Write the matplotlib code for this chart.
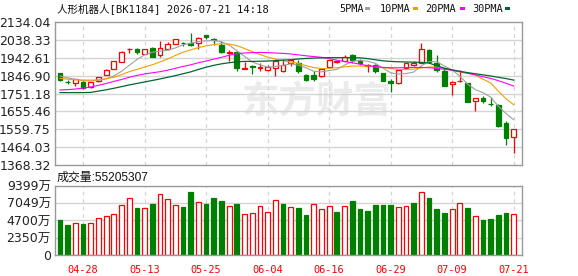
import numpy as np
import matplotlib.pyplot as plt
from matplotlib.patches import Rectangle

# candle data
opens = [1859, 1815, 1806, 1813, 1784, 1816, 1852, 1882, 1920, 1987,
         1989, 1963, 1995, 1956, 1991, 2018, 2022, 2020, 2023, 2064,
         2045, 2013, 1966, 1971, 1884, 1897, 1890, 1875, 1889, 1870,
         1913, 1916, 1848, 1848, 1843, 1893, 1918, 1927, 1955, 1923,
         1900, 1902, 1861, 1816, 1806, 1886, 1904, 1916, 1984, 1914,
         1873, 1802, 1818, 1807, 1709, 1727, 1695, 1690, 1591, 1517]
highs = [1862, 1823, 1827, 1816, 1815, 1839, 1880, 1925, 1977, 1995,
         1996, 1990, 1998, 2030, 2027, 2045, 2025, 2075, 2055, 2066,
         2050, 2030, 1984, 1980, 1922, 1904, 1916, 1904, 1936, 1938,
         1936, 1930, 1855, 1873, 1886, 1932, 1927, 1955, 1961, 1938,
         1907, 1909, 1863, 1830, 1880, 1922, 1925, 2023, 1991, 1957,
         1884, 1816, 1877, 1809, 1729, 1738, 1734, 1693, 1604, 1562]
lows = [1820, 1802, 1793, 1777, 1782, 1814, 1850, 1880, 1918, 1970,
        1963, 1961, 1945, 1948, 1984, 2014, 2004, 2007, 1991, 2041,
        2013, 1966, 1927, 1870, 1882, 1856, 1873, 1872, 1843, 1868,
        1900, 1863, 1816, 1818, 1841, 1891, 1916, 1924, 1913, 1902,
        1868, 1863, 1816, 1761, 1802, 1882, 1898, 1913, 1914, 1868,
        1791, 1743, 1813, 1705, 1659, 1698, 1684, 1574, 1477, 1434]
closes = [1823, 1813, 1827, 1782, 1813, 1838, 1879, 1923, 1975, 1990,
          1973, 1988, 1948, 1997, 2016, 2041, 2020, 2011, 2050, 2052,
          2036, 1975, 1973, 1886, 1886, 1895, 1893, 1893, 1923, 1902,
          1928, 1873, 1823, 1829, 1884, 1929, 1925, 1948, 1930, 1913,
          1902, 1872, 1816, 1806, 1877, 1913, 1914, 1988, 1920, 1876,
          1793, 1814, 1820, 1707, 1725, 1713, 1693, 1577, 1511, 1560]

ma5 = [1845, 1835, 1827, 1820, 1818, 1822, 1830, 1845, 1870, 1902,
       1933, 1958, 1972, 1978, 1983, 1995, 2012, 2020, 2030, 2033,
       2035, 2028, 2010, 1980, 1950, 1920, 1905, 1892, 1896, 1902,
       1910, 1903, 1889, 1870, 1867, 1874, 1880, 1903, 1923, 1929,
       1924, 1913, 1887, 1862, 1855, 1858, 1866, 1900, 1922, 1921,
       1898, 1877, 1844, 1802, 1772, 1756, 1732, 1683, 1644, 1611]
ma10 = [1832, 1828, 1824, 1823, 1823, 1824, 1830, 1838, 1852, 1868,
        1880, 1893, 1905, 1920, 1936, 1955, 1972, 1985, 1997, 2006,
        2013, 2018, 2016, 2008, 1992, 1976, 1960, 1946, 1936, 1926,
        1920, 1912, 1900, 1890, 1885, 1886, 1889, 1894, 1898, 1898,
        1897, 1895, 1890, 1885, 1880, 1880, 1882, 1888, 1893, 1893,
        1888, 1874, 1866, 1860, 1850, 1828, 1808, 1764, 1723, 1691]
ma20 = [1770, 1772, 1775, 1780, 1786, 1795, 1805, 1816, 1826, 1838,
        1848, 1856, 1862, 1868, 1876, 1886, 1896, 1905, 1916, 1925,
        1935, 1945, 1956, 1964, 1968, 1970, 1971, 1970, 1968, 1966,
        1963, 1958, 1953, 1949, 1945, 1938, 1930, 1922, 1916, 1908,
        1900, 1895, 1891, 1889, 1889, 1890, 1891, 1891, 1889, 1886,
        1881, 1876, 1868, 1860, 1851, 1841, 1832, 1820, 1806, 1791]
ma30 = [1756, 1756, 1756, 1756, 1757, 1764, 1771, 1779, 1788, 1797,
        1805, 1813, 1821, 1829, 1838, 1847, 1857, 1867, 1880, 1892,
        1902, 1910, 1916, 1921, 1923, 1923, 1924, 1925, 1927, 1930,
        1932, 1936, 1939, 1941, 1942, 1943, 1943, 1943, 1943, 1942,
        1938, 1932, 1926, 1923, 1921, 1920, 1919, 1918, 1914, 1900,
        1886, 1878, 1870, 1863, 1857, 1851, 1845, 1838, 1831, 1823]

# volume in 万, and whether the bar is an "up" day (red) or not (green)
volumes = [4780, 4110, 4380, 4240, 4380, 5050, 5320, 5580, 6840, 7730,
           6430, 6390, 6970, 8270, 7600, 6790, 6570, 8580, 7240, 6970,
           7770, 7370, 6660, 6970, 5580, 5720, 6660, 5900, 7460, 6970,
           6520, 6430, 5500, 6920, 6250, 6660, 5900, 6660, 7370, 6300,
           6030, 6840, 6840, 6840, 6520, 6660, 7100, 8530, 7770, 6300,
           5760, 6250, 7100, 6430, 5320, 4830, 4960, 5500, 5760, 5520]
vol_up = [0, 0, 1, 0, 1, 1, 1, 1, 1, 1,
          0, 1, 0, 1, 1, 1, 0, 0, 1, 0,
          0, 0, 1, 0, 1, 1, 1, 1, 1, 0,
          1, 0, 0, 1, 1, 1, 0, 1, 0, 0,
          0, 0, 0, 0, 1, 1, 0, 1, 0, 0,
          0, 1, 1, 0, 1, 0, 0, 0, 0, 1]

price_ticks = [2134.04, 2038.33, 1942.61, 1846.90, 1751.18, 1655.46, 1559.75, 1464.03, 1368.32]
price_labels = ['2134.04', '2038.33', '1942.61', '1846.90', '1751.18', '1655.46', '1559.75', '1464.03', '1368.32']
vol_ticks = [0, 2350, 4700, 7049, 9399]
vol_labels = ['0', '2350万', '4700万', '7049万', '9399万']
dates = ['04-28', '05-13', '05-25', '06-04', '06-16', '06-29', '07-09', '07-21']
date_idx = [3, 11, 19, 27, 35, 43, 51, 59]

RED = '#ff0000'
GREEN = '#008000'
GRID = '#d4d4d4'
FRAME = '#999999'
CJK = ['DejaVu Sans', 'Noto Sans CJK SC']
MONO = ['DejaVu Sans Mono', 'Noto Sans CJK SC']

W, H = 578, 276
fig = plt.figure(figsize=(W / 100, H / 100), dpi=100)
fig.patch.set_facecolor('white')

def px_axes(x0, y0, x1, y1):
    return fig.add_axes([x0 / W, 1 - y1 / H, (x1 - x0) / W, (y1 - y0) / H])

ax = px_axes(55, 22, 522, 165)
axv = px_axes(55, 186, 522, 255)

x = np.arange(len(opens))
o = np.array(opens, float)
c = np.array(closes, float)
up = c >= o
bw = 0.62

for a in (ax, axv):
    for s in a.spines.values():
        s.set_color(FRAME)
        s.set_linewidth(1.0)
    a.set_xlim(-0.65, 60.08)
    a.tick_params(length=0, labelsize=9, colors='#222222', pad=3)
    for d in date_idx:
        a.axvline(d, color=GRID, lw=0.9, ls=(0, (3, 3)), zorder=1)

# price panel
ax.set_ylim(1368.32, 2134.04)
ax.set_yticks(price_ticks)
ax.set_yticklabels(price_labels)
ax.set_xticks([])
for t in price_ticks[1:-1]:
    ax.axhline(t, color=GRID, lw=1.0, zorder=1)

# faint watermark
ax.text(0.56, 0.44, '东方财富', transform=ax.transAxes, ha='center', va='center',
        fontsize=27, fontweight='bold', color='#ebebeb', family='Noto Sans CJK SC', zorder=0.5)

colors = np.where(up, RED, GREEN)
ax.vlines(x, lows, highs, colors=colors, lw=0.9, zorder=2)
ax.bar(x, np.abs(c - o), bottom=np.minimum(o, c), width=bw,
       color=np.where(up, 'white', GREEN), edgecolor=colors, lw=0.9, zorder=2.5)

ax.plot(x, ma5, color='#a0a0a0', lw=0.8, zorder=3)
ax.plot(x, ma10, color='#f0a000', lw=0.8, zorder=3)
ax.plot(x, ma20, color='#ff00ff', lw=0.8, zorder=3)
ax.plot(x, ma30, color='#006633', lw=0.9, zorder=3)

# volume panel
vu = np.array(vol_up, bool)
axv.set_ylim(0, 9399)
axv.set_yticks(vol_ticks)
axv.set_yticklabels(vol_labels, family=CJK)
for t in vol_ticks[1:-1]:
    axv.axhline(t, color=GRID, lw=1.0, zorder=1)
axv.bar(x, volumes, width=bw, color=np.where(vu, 'white', GREEN),
        edgecolor=np.where(vu, RED, GREEN), lw=0.9, zorder=2)
axv.set_xticks(date_idx)
axv.set_xticklabels(dates, family=MONO, fontsize=7.4, color=RED)
axv.tick_params(axis='x', pad=7)

# header texts
fig.text(57 / W, 1 - 9 / H, '人形机器人[BK1184] 2026-07-21 14:18', family=MONO,
         fontsize=7.6, color='#111111', va='center', ha='left')
fig.text(57 / W, 1 - 178 / H, '成交量:55205307', family=['Liberation Sans', 'Noto Sans CJK SC'],
         fontsize=8.6, color='#111111', va='center', ha='left')

legend = [('5PMA', 339, 365, '#a0a0a0'), ('10PMA', 380, 413, '#f0a000'),
          ('20PMA', 425, 460, '#ff00ff'), ('30PMA', 472, 505, '#006633')]
for name, tx, mx, col in legend:
    fig.text(tx / W, 1 - 9 / H, name, family=MONO, fontsize=7.4, color='#111111',
             va='center', ha='left')
    fig.add_artist(Rectangle((mx / W, 1 - 10 / H), 5 / W, 2.5 / H, transform=fig.transFigure,
                             facecolor=col, edgecolor='none'))

fig.savefig('out.png', dpi=100)
